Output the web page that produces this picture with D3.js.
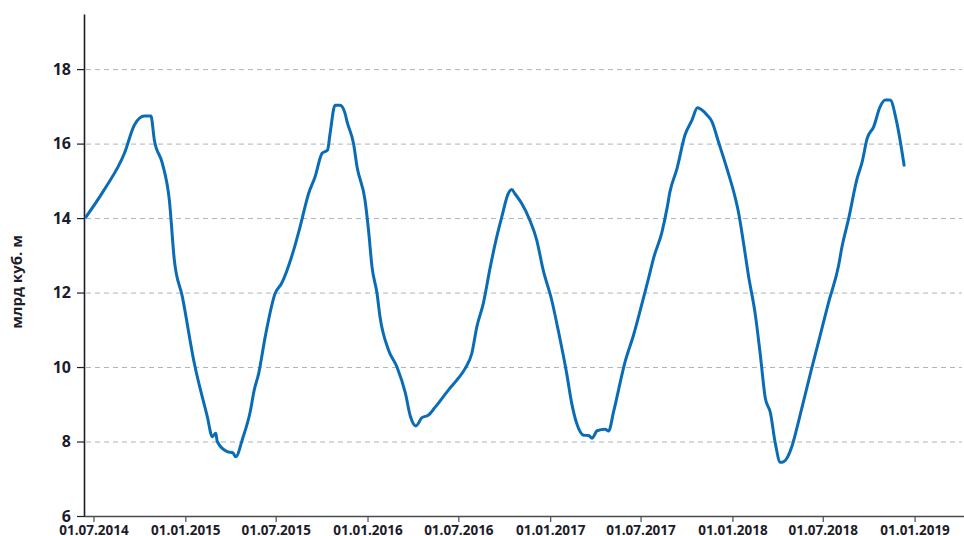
<!DOCTYPE html>
<html>
<head>
<meta charset="utf-8">
<script src="https://cdn.jsdelivr.net/npm/d3@7"></script>
<style>
  body { margin: 0; background: #fff; }
  svg { display: block; }
  svg text { font-family: "Open Sans", sans-serif; }
</style>
</head>
<body>
<svg id="chart" width="964" height="536"></svg>
<script>
try {

// dates of the readings
var dates = [
  "2014-06-16","2014-07-22","2014-09-01","2014-09-21","2014-10-11","2014-10-24","2014-10-31","2014-11-16","2014-11-30","2014-12-10",
  "2014-12-26","2015-01-19","2015-02-14","2015-02-24","2015-03-03","2015-03-06","2015-03-26","2015-04-06","2015-04-12","2015-04-26",
  "2015-05-11","2015-05-19","2015-05-28","2015-06-10","2015-06-30","2015-07-13","2015-08-06","2015-08-19","2015-09-05","2015-09-18",
  "2015-10-02","2015-10-13","2015-10-18","2015-10-28","2015-11-07","2015-11-17","2015-11-21","2015-12-04","2015-12-11","2015-12-27",
  "2016-01-03","2016-01-10","2016-01-20","2016-01-26","2016-02-12","2016-02-29","2016-03-17","2016-03-27","2016-04-07","2016-04-19",
  "2016-05-02","2016-05-16","2016-06-11","2016-07-01","2016-07-15","2016-07-28","2016-08-07","2016-08-20","2016-09-03","2016-09-16",
  "2016-09-26","2016-10-09","2016-10-16","2016-10-22","2016-11-05","2016-11-21","2016-12-05","2016-12-18","2017-01-04","2017-01-17",
  "2017-02-03","2017-02-13","2017-02-23","2017-03-09","2017-03-19","2017-03-26","2017-04-05","2017-04-21","2017-04-28","2017-05-08",
  "2017-05-31","2017-06-17","2017-07-10","2017-07-17","2017-07-27","2017-08-13","2017-08-23","2017-08-29","2017-09-12","2017-09-28",
  "2017-10-12","2017-10-23","2017-11-11","2017-11-21","2017-12-04","2017-12-21","2018-01-07","2018-01-13","2018-01-23","2018-02-02",
  "2018-02-16","2018-02-26","2018-03-08","2018-03-18","2018-03-28","2018-04-07","2018-04-14","2018-04-30","2018-05-10","2018-05-20",
  "2018-06-09","2018-06-26","2018-07-13","2018-08-02","2018-08-08","2018-08-22","2018-09-08","2018-09-18","2018-09-28","2018-10-11",
  "2018-10-24","2018-11-03","2018-11-13","2018-11-26","2018-12-11"
];

// volume, bln cubic metres
var volumes = [
  14.03,14.75,15.74,16.50,16.74,16.74,16.09,15.47,14.48,12.87,
  11.89,10.10,8.67,8.13,8.22,8.00,7.73,7.70,7.59,8.09,
  8.80,9.38,9.83,10.81,11.98,12.25,13.14,13.77,14.66,15.11,
  15.74,15.83,16.27,17.03,17.03,16.81,16.59,16.00,15.38,14.48,
  13.68,12.69,11.98,11.35,10.46,10.00,9.29,8.67,8.42,8.64,
  8.71,8.93,9.38,9.70,9.97,10.37,11.08,11.71,12.69,13.50,
  14.03,14.66,14.77,14.66,14.39,13.95,13.41,12.60,11.80,10.99,
  9.83,9.03,8.49,8.17,8.16,8.09,8.29,8.33,8.28,8.80,
  10.14,10.86,12.02,12.38,12.92,13.63,14.26,14.71,15.33,16.23,
  16.63,16.96,16.77,16.59,16.05,15.33,14.53,14.17,13.36,12.47,
  11.40,10.32,9.16,8.78,7.95,7.44,7.46,7.86,8.35,8.89,
  9.97,10.86,11.75,12.74,13.19,13.99,15.07,15.51,16.14,16.45,
  16.99,17.17,17.17,16.59,15.42
];

var xTicks = ["2014-07-01","2015-01-01","2015-07-01","2016-01-01","2016-07-01","2017-01-01","2017-07-01","2018-01-01","2018-07-01","2019-01-01"];
var yTicks = [6, 8, 10, 12, 14, 16, 18];
var yLabel = "млрд куб. м";

var parse = d3.utcParse("%Y-%m-%d");
var fmt = d3.utcFormat("%d.%m.%Y");

var data = dates.map(function(d, i){ return { date: parse(d), value: volumes[i] }; });

var svg = d3.select("#chart");

var plot = { left: 84, right: 962, top: 14, bottom: 516 };

var x = d3.scaleUtc()
  .domain([parse("2014-06-12"), parse("2019-04-06")])
  .range([plot.left, plot.right]);

var y = d3.scaleLinear()
  .domain([6, 19.48])
  .range([plot.bottom, plot.top]);

/*==== grid ====*/
svg.append("g")
  .selectAll("line")
  .data(yTicks.filter(function(t){ return t > 6; }))
  .join("line")
    .attr("x1", plot.left + 2)
    .attr("x2", plot.right)
    .attr("y1", function(d){ return y(d) + 0.5; })
    .attr("y2", function(d){ return y(d) + 0.5; })
    .attr("stroke", "#aab4c3")
    .attr("stroke-width", 1)
    .attr("stroke-dasharray", "5,4");

/*==== axes ====*/
var xAxis = svg.append("g")
  .attr("transform", "translate(0," + plot.bottom + ")")
  .call(d3.axisBottom(x).tickValues(xTicks.map(parse)).tickFormat(fmt).tickSize(6).tickPadding(3).tickSizeOuter(0));
xAxis.attr("font-family", null);
xAxis.select(".domain").attr("d", "M" + plot.left + ",0.5H964").attr("stroke", "#4a4a55").attr("stroke-width", 1.3);
xAxis.selectAll(".tick line").attr("stroke", "#4a4a55").attr("stroke-width", 1.2);
xAxis.selectAll("text")
  .attr("fill", "#1c1c2a")
  .style("font-size", "13.5px")
  .style("font-weight", "700");

var yAxis = svg.append("g")
  .attr("transform", "translate(" + plot.left + ",0)")
  .call(d3.axisLeft(y).tickValues(yTicks).tickSize(7).tickPadding(6).tickSizeOuter(0));
yAxis.attr("font-family", null);
yAxis.select(".domain").attr("stroke", "#1c1c2a").attr("stroke-width", 1.6);
yAxis.selectAll(".tick line").attr("stroke", "#1c1c2a").attr("stroke-width", 1.2);
yAxis.selectAll("text")
  .attr("fill", "#1c1c2a")
  .style("font-size", "16px")
  .style("font-weight", "700");

svg.append("text")
  .attr("transform", "translate(22,282) rotate(-90)")
  .attr("text-anchor", "middle")
  .attr("fill", "#1c1c2a")
  .style("font-size", "15px")
  .style("font-weight", "700")
  .text(yLabel);

/*==== line ====*/
var line = d3.line()
  .x(function(d){ return x(d.date); })
  .y(function(d){ return y(d.value); })
  .curve(d3.curveMonotoneX);

svg.append("path")
  .datum(data)
  .attr("d", line)
  .attr("fill", "none")
  .attr("stroke", "#0b6cb6")
  .attr("stroke-width", 3)
  .attr("stroke-linejoin", "round")
  .attr("stroke-linecap", "round");

} catch (e) {
  console.log(e);
}
</script>
</body>
</html>
